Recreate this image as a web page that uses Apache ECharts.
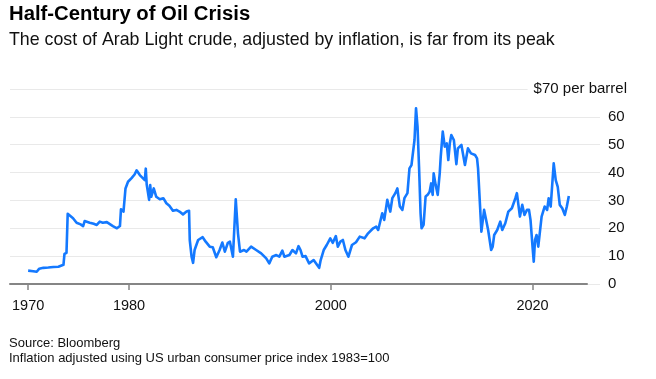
<!DOCTYPE html>
<html>
<head>
<meta charset="utf-8">
<script src="https://cdn.jsdelivr.net/npm/echarts@6/dist/echarts.min.js"></script>
<style>
html,body{margin:0;padding:0;background:#fff;}
#chart{width:656px;height:379px;}
</style>
</head>
<body>
<div id="chart"></div>
<script>
// Decimal years and inflation-adjusted price (USD per barrel)
const years = [
1970.0,1970.5,1970.85,1971.1,1971.5,1972.0,1972.5,1973.0,1973.5,1973.6,1973.8,1973.92,1974.0,1974.45,1974.8,1975.2,1975.45,1975.6,1976.1,1976.5,1976.8,1977.1,1977.4,1977.8,1978.1,1978.4,1978.8,1979.1,1979.2,1979.45,1979.65,1979.9,1980.25,1980.55,1980.75,1981.07,1981.56,1981.66,1981.75,1981.99,1982.1,1982.2,1982.45,1982.7,1983.05,1983.4,1983.7,1984.0,1984.35,1984.7,1985.0,1985.35,1985.7,1985.95,1986.02,1986.2,1986.35,1986.5,1986.85,1987.3,1987.6,1988.0,1988.3,1988.65,1988.98,1989.25,1989.5,1989.8,1990.0,1990.3,1990.58,1990.8,1991.0,1991.4,1991.64,1992.1,1992.6,1993.1,1993.6,1993.9,1994.2,1994.6,1994.9,1995.2,1995.4,1995.9,1996.2,1996.55,1996.8,1997.0,1997.2,1997.5,1997.85,1998.3,1998.65,1998.85,1999.0,1999.3,1999.6,1999.95,2000.2,2000.5,2000.7,2000.95,2001.2,2001.45,2001.75,2002.1,2002.5,2002.87,2003.05,2003.35,2003.7,2004.2,2004.5,2004.7,2005.1,2005.3,2005.6,2005.9,2006.1,2006.4,2006.6,2006.85,2007.1,2007.3,2007.6,2007.8,2008.0,2008.1,2008.3,2008.45,2008.6,2008.75,2008.9,2009.0,2009.2,2009.4,2009.6,2009.8,2009.95,2010.1,2010.2,2010.4,2010.6,2010.8,2010.9,2011.1,2011.3,2011.5,2011.65,2011.8,2011.95,2012.2,2012.45,2012.6,2012.95,2013.3,2013.6,2013.9,2014.3,2014.5,2014.6,2014.8,2014.93,2015.2,2015.4,2015.6,2015.9,2016.05,2016.2,2016.5,2016.8,2017.0,2017.3,2017.6,2017.95,2018.3,2018.45,2018.75,2018.98,2019.2,2019.45,2019.65,2019.8,2020.0,2020.12,2020.25,2020.4,2020.57,2020.9,2021.2,2021.45,2021.6,2021.8,2022.1,2022.3,2022.5,2022.7,2022.95,2023.2,2023.4,2023.6
];
const prices = [
4.8,4.6,4.4,5.5,5.8,5.9,6.1,6.2,6.9,10.8,11.2,25.2,25.5,23.6,22.0,21.4,20.8,22.6,22.0,21.6,21.2,22.4,22.0,22.2,21.5,20.8,20.0,20.8,26.8,26.0,34.3,36.7,38.0,39.3,40.8,39.1,37.3,41.4,35.8,30.2,35.5,31.3,34.3,31.3,30.4,30.8,29.0,28.1,26.3,26.6,26.0,25.0,26.0,26.3,15.8,9.8,7.6,12.2,15.8,16.8,15.2,13.4,13.2,9.6,12.2,14.9,11.6,14.8,15.2,9.8,30.4,18.2,11.6,12.2,11.6,13.4,12.2,11.0,9.2,7.4,9.8,10.4,9.8,12.0,9.8,10.4,12.2,11.0,13.6,12.2,9.8,10.0,7.4,8.6,6.8,5.8,8.6,12.2,14.0,16.4,14.8,17.2,13.4,15.2,15.8,12.2,9.8,14.0,15.0,17.0,17.6,16.4,18.2,20.0,20.6,19.4,25.4,23.0,30.2,26.0,30.8,32.6,34.3,27.8,26.6,30.8,32.6,41.5,42.7,45.7,51.7,63.1,56.5,42.1,25.4,20.0,21.2,31.4,32.0,33.1,36.1,32.0,39.7,35.5,32.0,39.7,45.7,54.7,49.3,50.5,44.5,50.5,53.5,51.7,43.0,48.7,49.9,42.7,48.7,46.9,46.3,45.1,41.5,27.8,18.8,26.6,23.0,19.4,12.2,13.4,17.6,19.4,22.4,19.4,21.8,26.0,27.2,30.8,32.6,24.2,28.4,24.8,26.6,26.6,23.0,13.4,8.0,15.8,17.6,13.4,24.2,27.8,26.6,30.8,27.8,43.3,37.3,34.9,28.4,27.2,24.8,27.8,31.6
];
const xTickYears = [1970, 1980, 2000, 2020];
const yTicks = [0, 10, 20, 30, 40, 50, 60, 70];

const chart = echarts.init(document.getElementById('chart'), null, {renderer: 'canvas'});
const FONT = 'Liberation Sans, Arial, Helvetica, sans-serif';
const seriesData = years.map((y, i) => [y, prices[i]]);

chart.setOption({
  animation: false,
  backgroundColor: '#ffffff',
  title: [
    {text: 'Half-Century of Oil Crisis', left: 9, top: 2, padding: 0,
     textStyle: {fontFamily: FONT, fontSize: 20.3, fontWeight: 'bold', color: '#000', lineHeight: 24}},
    {text: 'The cost of Arab Light crude, adjusted by inflation, is far from its peak', left: 9, top: 29, padding: 0,
     textStyle: {fontFamily: FONT, fontSize: 17.8, fontWeight: 'normal', color: '#111', lineHeight: 22}},
    {text: 'Source: Bloomberg\nInflation adjusted using US urban consumer price index 1983=100', left: 9, top: 335.5, padding: 0,
     textStyle: {fontFamily: FONT, fontSize: 13, fontWeight: 'normal', color: '#111', lineHeight: 15}},
    {text: '$70 per barrel', right: 29, top: 80, padding: [0, 0, 0, 6], backgroundColor: '#fff',
     textStyle: {fontFamily: FONT, fontSize: 15, fontWeight: 'normal', color: '#111', lineHeight: 18}}
  ],
  grid: [
    {left: 10, right: 69, top: 89, bottom: 95, containLabel: false},
    {left: 10, right: 56, top: 89, bottom: 95, containLabel: false}
  ],
  xAxis: [
    {type: 'value', gridIndex: 0, min: 1968.2, max: 2025.4,
     axisLine: {show: true, lineStyle: {color: '#858585', width: 2}},
     axisTick: {show: true, customValues: xTickYears, length: 6, lineStyle: {color: '#858585', width: 1.5}},
     axisLabel: {show: true, customValues: xTickYears, margin: 14, fontFamily: FONT, fontSize: 14.5, color: '#111',
                 formatter: v => String(v)},
     splitLine: {show: false}},
    {type: 'value', gridIndex: 1, min: 0, max: 1, show: false}
  ],
  yAxis: [
    {type: 'value', gridIndex: 0, min: 0, max: 70, show: false},
    {type: 'value', gridIndex: 1, min: 0, max: 70, interval: 10, position: 'right',
     axisLine: {show: false}, axisTick: {show: false},
     splitLine: {show: true, lineStyle: {color: '#e9e9e9', width: 1.2}},
     axisLabel: {show: true, margin: 8, fontFamily: FONT, fontSize: 15, color: '#111',
                 formatter: v => (v === 70 ? '' : String(v))}}
  ],
  series: [
    {type: 'line', xAxisIndex: 0, yAxisIndex: 0, data: seriesData,
     showSymbol: false, symbol: 'none', smooth: false,
     lineStyle: {color: '#1479ff', width: 2.6, join: 'round'}, z: 5}
  ]
});
</script>
</body>
</html>
